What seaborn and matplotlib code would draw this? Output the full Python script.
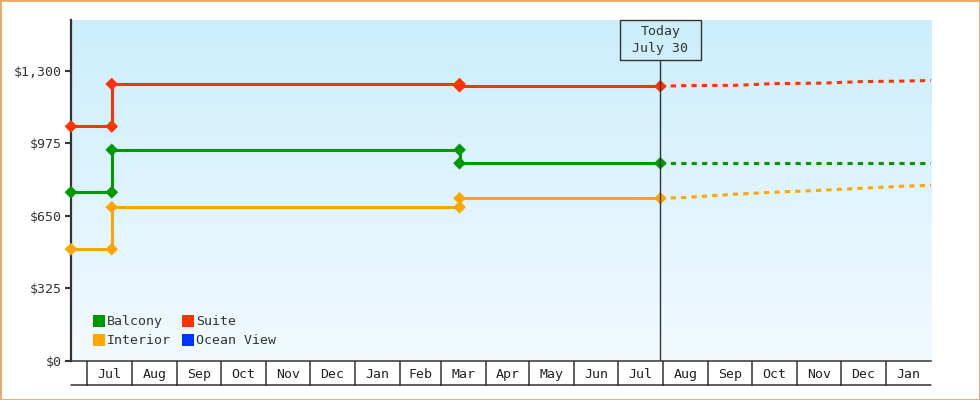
import numpy as np
import pandas as pd
import matplotlib
matplotlib.use("Agg")
import matplotlib.pyplot as plt
import matplotlib.transforms as mtransforms
from matplotlib.lines import Line2D
from matplotlib.patches import Rectangle
from matplotlib.colors import LinearSegmentedColormap
import seaborn as sns

# cabins and colours (Ocean View only shows in the legend)
cabins = ["Balcony", "Interior", "Suite", "Ocean View"]
cabin_colors = ["#009900", "#FFA500", "#FF3300", "#0033FF"]

# recorded prices (step changes)
actual_dates = ["2022-06-20", "2022-07-18", "2022-07-18", "2023-03-14", "2023-03-14", "2023-07-30"]
balcony_actual = [755, 755, 945, 945, 885, 885]
interior_actual = [500, 500, 688, 688, 728, 728]
suite_actual = [1050, 1050, 1240, 1240, 1230, 1230]

# forecast after today
forecast_dates = ["2023-07-30", "2023-08-15", "2023-09-19", "2023-10-16",
                  "2023-11-18", "2023-12-16", "2024-01-12", "2024-02-01"]
balcony_forecast = [885, 885, 885, 885, 885, 885, 885, 885]
interior_forecast = [728, 731, 746, 755, 764, 773, 782, 786]
suite_forecast = [1230, 1233, 1234, 1242, 1244, 1251, 1253, 1256]

today = "2023-07-30"
today_label = "Today\nJuly 30"

x_start = "2022-06-20"
x_end = "2024-02-01"
month_labels = ["Jul", "Aug", "Sep", "Oct", "Nov", "Dec", "Jan", "Feb", "Mar", "Apr",
                "May", "Jun", "Jul", "Aug", "Sep", "Oct", "Nov", "Dec", "Jan"]
y_ticks = [0, 325, 650, 975, 1300]
y_labels = ["$0", "$325", "$650", "$975", "$1,300"]
y_max = 1527


def make_frame(dates, series):
    rows = []
    for cabin, values in series.items():
        for d, v in zip(dates, values):
            rows.append({"date": pd.Timestamp(d), "price": v, "cabin": cabin})
    return pd.DataFrame(rows)


actual_df = make_frame(actual_dates, {"Balcony": balcony_actual,
                                      "Interior": interior_actual,
                                      "Suite": suite_actual})
forecast_df = make_frame(forecast_dates, {"Balcony": balcony_forecast,
                                          "Interior": interior_forecast,
                                          "Suite": suite_forecast})
palette = dict(zip(cabins, cabin_colors))

sns.set_style("white")
plt.rcParams["font.family"] = ["DejaVu Sans Mono"]
plt.rcParams["font.size"] = 9.5
dark = "#333333"

fig = plt.figure(figsize=(9.8, 4), dpi=100)
ax = fig.add_axes([71 / 980, 39.3 / 400, 860 / 980, 340.7 / 400])

# gradient background
grad = np.linspace(0, 1, 256).reshape(-1, 1)
cmap = LinearSegmentedColormap.from_list("bg", ["#F2FAFF", "#CCEEFC"])
ax.imshow(grad, extent=[0, 1, 0, 1], transform=ax.transAxes, origin="lower",
          cmap=cmap, aspect="auto", zorder=0)

sns.lineplot(data=actual_df, x="date", y="price", hue="cabin", palette=palette,
             estimator=None, sort=False, linewidth=2.2, legend=False, ax=ax, zorder=3)
sns.lineplot(data=forecast_df, x="date", y="price", hue="cabin", palette=palette,
             estimator=None, sort=False, linewidth=2.2, linestyle=(0, (1.7, 1.7)),
             legend=False, ax=ax, zorder=3)
sns.scatterplot(data=actual_df, x="date", y="price", hue="cabin", palette=palette,
                marker="D", s=42, linewidth=0, legend=False, ax=ax, zorder=4,
                clip_on=False)

ax.set_xlim(pd.Timestamp(x_start), pd.Timestamp(x_end))
ax.set_ylim(0, y_max)

# today marker
t = pd.Timestamp(today)
ax.axvline(t, ymin=0, ymax=(360.7 - 60) / 340.7, color=dark, lw=1.0, zorder=5)
box_tf = mtransforms.blended_transform_factory(ax.transData, ax.transAxes)
box_left = t - pd.Timedelta(days=27.6)
box = Rectangle((matplotlib.dates.date2num(box_left), (360.7 - 60) / 340.7),
                55.5, 40 / 340.7, transform=box_tf, fill=False, ec=dark, lw=1.0,
                clip_on=False, zorder=5)
ax.add_patch(box)
ax.text(t, (360.7 - 40) / 340.7, today_label, transform=box_tf, ha="center", va="center",
        color=dark, fontsize=9.5, linespacing=1.4, zorder=6)

# month boxes on x axis
month_starts = pd.date_range("2022-07-01", "2024-01-01", freq="MS")
month_next = month_starts + pd.offsets.MonthBegin(1)
centers = month_starts + (month_next - month_starts) / 2
ax.set_xticks(month_starts)
ax.set_xticklabels([""] * len(month_starts))
ax.set_xticks(centers, minor=True)
ax.set_xticklabels(month_labels, minor=True)
ax.tick_params(axis="x", which="major", bottom=True, length=18, width=1.1, color=dark,
               direction="out")
ax.tick_params(axis="x", which="minor", bottom=True, length=0, pad=5, labelsize=9.5,
               labelcolor="#222222")
fig.add_artist(Line2D([71 / 980, 931 / 980], [15 / 400, 15 / 400],
                      transform=fig.transFigure, color=dark, lw=1.1))

ax.set_yticks(y_ticks)
ax.set_yticklabels(y_labels)
ax.tick_params(axis="y", length=4, width=1.5, color=dark, pad=3, labelsize=9.5,
               labelcolor=dark, left=True)
ax.set_xlabel("")
ax.set_ylabel("")

for side in ["top", "right"]:
    ax.spines[side].set_visible(False)
ax.spines["left"].set_color(dark)
ax.spines["left"].set_linewidth(1.6)
ax.spines["bottom"].set_color(dark)
ax.spines["bottom"].set_linewidth(1.1)

handles = [Line2D([], [], marker="s", linestyle="none", markersize=8.2,
                  markerfacecolor=c, markeredgewidth=0) for c in cabin_colors]
ax.legend(handles, cabins, ncol=2, loc="lower left", bbox_to_anchor=(0.012, 0.005),
          frameon=False, handlelength=0.85, handletextpad=0.18, columnspacing=0.9,
          labelspacing=0.45, fontsize=9.5, labelcolor=dark)

# orange frame around the whole image
fig.add_artist(Rectangle((0, 0), 1, 1, transform=fig.transFigure, fill=False,
                         ec="#E8A865", lw=2.0))

fig.savefig("out.png", dpi=100, facecolor="white")
